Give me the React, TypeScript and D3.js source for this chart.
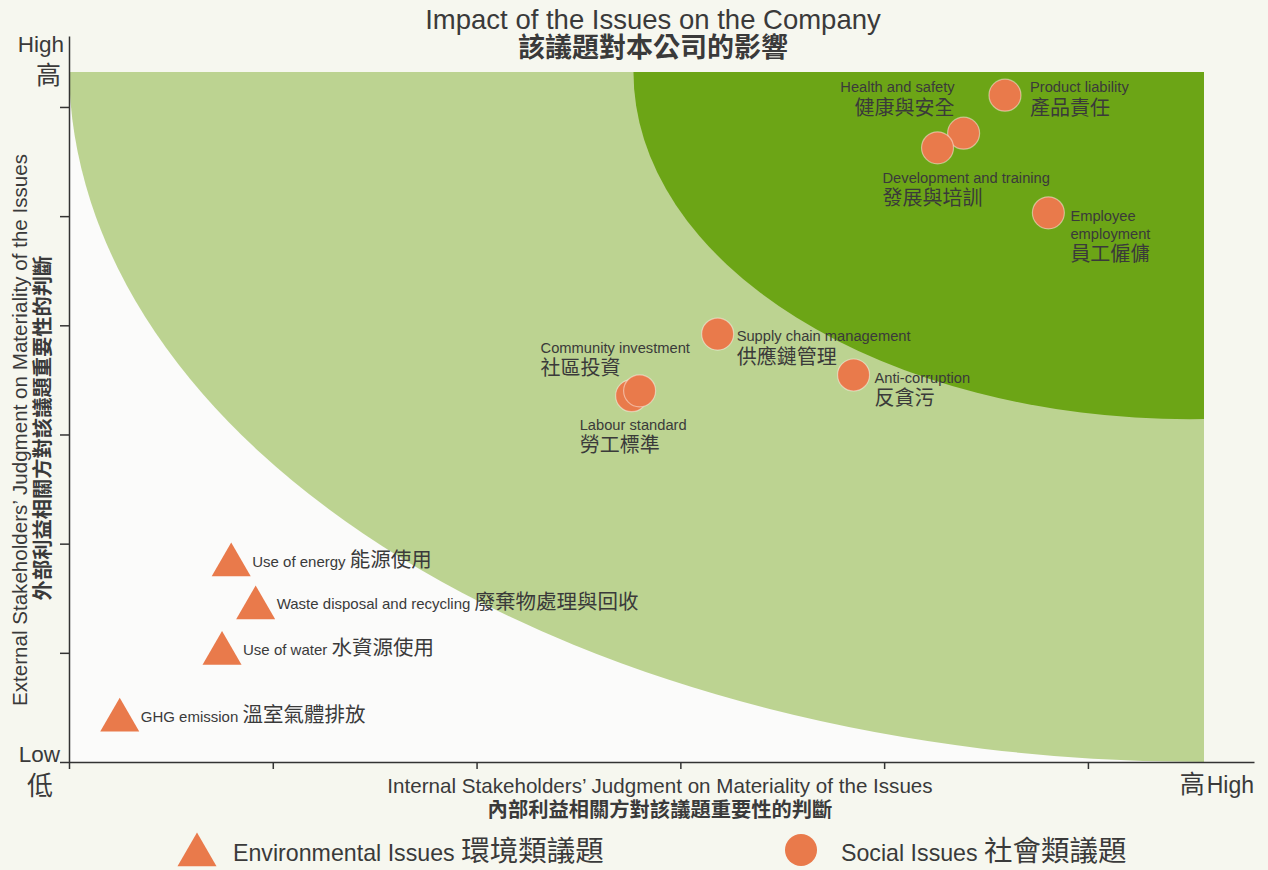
import React, { useEffect, useRef } from 'react';
import * as d3 from 'd3';

const W = 1268;
const H = 870;

// axis ticks (0 = low, top tick = high)
const xTickValues = [0, 1, 2, 3, 4, 5];
const yTickValues = [0, 1, 2, 3, 4, 5, 6];

// materiality zones, in data units (quarter ellipses anchored at the top-right corner)
const zoneBox = { x: 5.57, y: 6.32 };
const outerZone = { cx: 5.57, cy: 6.374, rx: 5.57, ry: 6.374 };
const innerZone = { cx: 5.5, cy: 6.32, rx: 2.73, ry: 3.18 };

const envIssues = [
  { en: 'Use of energy', zh: '能源使用', x: 0.796, y: 1.804 },
  { en: 'Waste disposal and recycling', zh: '廢棄物處理與回收', x: 0.916, y: 1.411 },
  { en: 'Use of water', zh: '水資源使用', x: 0.751, y: 0.993 },
  { en: 'GHG emission', zh: '溫室氣體排放', x: 0.249, y: 0.383 },
];

const socialIssues = [
  { en: 'Product liability', zh: '產品責任', x: 4.593, y: 6.108 },
  { en: 'Health and safety', zh: '健康與安全', x: 4.39, y: 5.76 },
  { en: 'Development and training', zh: '發展與培訓', x: 4.262, y: 5.626 },
  { en: 'Employee\nemployment', zh: '員工僱傭', x: 4.806, y: 5.03 },
  { en: 'Supply chain management', zh: '供應鏈管理', x: 3.183, y: 3.92 },
  { en: 'Labour standard', zh: '勞工標準', x: 2.761, y: 3.355 },
  { en: 'Community investment', zh: '社區投資', x: 2.8, y: 3.4 },
  { en: 'Anti-corruption', zh: '反貪污', x: 3.85, y: 3.545 },
];

// where each social label sits relative to its dot (px)
const labelPlacement: Record<string, { dx: number; dy: number; anchor: string }> = {
  'Product liability': { dx: 25, dy: -3, anchor: 'start' },
  'Health and safety': { dx: -9, dy: -41, anchor: 'end' },
  'Development and training': { dx: -55, dy: 35, anchor: 'start' },
  'Employee\nemployment': { dx: 22, dy: 8, anchor: 'start' },
  'Supply chain management': { dx: 19, dy: 7, anchor: 'start' },
  'Labour standard': { dx: -52, dy: 34, anchor: 'start' },
  'Community investment': { dx: -99, dy: -38, anchor: 'start' },
  'Anti-corruption': { dx: 21, dy: 8, anchor: 'start' },
};

const EN = '"Liberation Sans", Arial, sans-serif';
const ZH = '"Noto Sans CJK TC", "Noto Sans CJK SC", sans-serif';
const TXT = '#3a3a3a';
const ORANGE = '#e97a4b';
const LIGHT = '#bcd391';
const DARK = '#6ca516';

const x = d3.scaleLinear().domain([0, 5.815]).range([69, 1254]);
const y = d3.scaleLinear().domain([0, 6.65]).range([762, 36]);
const triangle = d3.symbol(d3.symbolTriangle, 659)();

export default function App() {
  const xAxisRef = useRef<SVGGElement>(null);
  const yAxisRef = useRef<SVGGElement>(null);

  useEffect(() => {
    const xa = d3.select(xAxisRef.current!);
    xa.call(d3.axisBottom(x).tickValues(xTickValues).tickSize(7).tickSizeOuter(0).tickFormat(() => '') as any);
    const ya = d3.select(yAxisRef.current!);
    ya.call(d3.axisLeft(y).tickValues(yTickValues).tickSize(9).tickSizeOuter(0).tickFormat(() => '') as any);
    [xa, ya].forEach((g) => {
      g.selectAll('path, line').attr('stroke', '#333').attr('stroke-width', 1.5);
    });
  }, []);

  const ell = (z: typeof outerZone) => ({
    cx: x(z.cx),
    cy: y(z.cy),
    rx: x(z.rx) - x(0),
    ry: y(0) - y(z.ry),
  });

  return (
    <svg width={W} height={H} style={{ position: 'absolute', left: 0, top: 0 }}>
      <rect width={W} height={H} fill="#f6f7ef" />
      <defs>
        <clipPath id="zone">
          <rect x={x(0)} y={y(zoneBox.y)} width={x(zoneBox.x) - x(0)} height={y(0) - y(zoneBox.y)} />
        </clipPath>
      </defs>

      <rect x={x(0)} y={y(zoneBox.y)} width={x(zoneBox.x) - x(0)} height={y(0) - y(zoneBox.y)} fill="#fbfbfa" />
      <g clipPath="url(#zone)">
        <ellipse {...ell(outerZone)} fill={LIGHT} />
        <ellipse {...ell(innerZone)} fill={DARK} />
      </g>

      {/* title */}
      <text x={653} y={29} textAnchor="middle" fontFamily={EN} fontSize={27.5} fill={TXT}>
        Impact of the Issues on the Company
      </text>
      <text x={653} y={57} textAnchor="middle" fontFamily={ZH} fontSize={27} fontWeight={700} fill={TXT}>
        該議題對本公司的影響
      </text>

      <g ref={xAxisRef} transform={`translate(0,${y(0)})`} />
      <g ref={yAxisRef} transform={`translate(${x(0)},0)`} />

      {/* axis end labels */}
      <text x={64} y={52} textAnchor="end" fontFamily={EN} fontSize={22.5} fill={TXT}>High</text>
      <text x={61} y={84} textAnchor="end" fontFamily={ZH} fontSize={25} fill={TXT}>高</text>
      <text x={60} y={762} textAnchor="end" fontFamily={EN} fontSize={22.5} fill={TXT}>Low</text>
      <text x={53} y={795} textAnchor="end" fontFamily={ZH} fontSize={26} fill={TXT}>低</text>
      <text x={1254} y={793} textAnchor="end" fill={TXT}>
        <tspan fontFamily={ZH} fontSize={25}>高</tspan>
        <tspan fontFamily={EN} fontSize={23} dx={2}>High</tspan>
      </text>

      {/* axis titles */}
      <text x={660} y={793} textAnchor="middle" fontFamily={EN} fontSize={20.6} fill={TXT}>
        Internal Stakeholders’ Judgment on Materiality of the Issues
      </text>
      <text x={660} y={817} textAnchor="middle" fontFamily={ZH} fontSize={20.3} fontWeight={700} fill={TXT}>
        內部利益相關方對該議題重要性的判斷
      </text>
      <g transform="translate(27,430) rotate(-90)">
        <text x={0} y={0} textAnchor="middle" fontFamily={EN} fontSize={20.6} fill={TXT}>
          External Stakeholders’ Judgment on Materiality of the Issues
        </text>
      </g>
      <g transform="translate(50,428) rotate(-90)">
        <text x={0} y={0} textAnchor="middle" fontFamily={ZH} fontSize={20.3} fontWeight={700} fill={TXT}>
          外部利益相關方對該議題重要性的判斷
        </text>
      </g>

      {/* environmental issues */}
      {envIssues.map((d) => (
        <g key={d.en} transform={`translate(${x(d.x)},${y(d.y)})`}>
          <path d={triangle!} fill={ORANGE} />
          <text x={21} y={1.5} fill={TXT}>
            <tspan fontFamily={EN} fontSize={15}>{d.en} </tspan>
            <tspan fontFamily={ZH} fontSize={20.5}>{d.zh}</tspan>
          </text>
        </g>
      ))}

      {/* social issues */}
      {socialIssues.map((d) => (
        <circle key={d.en} cx={x(d.x)} cy={y(d.y)} r={16} fill={ORANGE} stroke="#ffffff" strokeOpacity={0.45} strokeWidth={1.2} />
      ))}
      {socialIssues.map((d) => {
        const p = labelPlacement[d.en];
        const lines = d.en.split('\n');
        const px = x(d.x) + p.dx;
        const py = y(d.y) + p.dy;
        return (
          <g key={d.en + '-label'} fill={TXT} textAnchor={p.anchor}>
            {lines.map((l, i) => (
              <text key={l} x={px} y={py + i * 18} fontFamily={EN} fontSize={14.7}>{l}</text>
            ))}
            <text x={px} y={py + (lines.length - 1) * 18 + 22.5} fontFamily={ZH} fontSize={20}>{d.zh}</text>
          </g>
        );
      })}

      {/* legend */}
      <path d={triangle!} transform="translate(197,855)" fill={ORANGE} />
      <text x={233} y={861} fill={TXT}>
        <tspan fontFamily={EN} fontSize={23.2}>Environmental Issues </tspan>
        <tspan fontFamily={ZH} fontSize={28.5}>環境類議題</tspan>
      </text>
      <circle cx={801} cy={850} r={16} fill={ORANGE} />
      <text x={841} y={861} fill={TXT}>
        <tspan fontFamily={EN} fontSize={23.2}>Social Issues </tspan>
        <tspan fontFamily={ZH} fontSize={28.5}>社會類議題</tspan>
      </text>
    </svg>
  );
}
